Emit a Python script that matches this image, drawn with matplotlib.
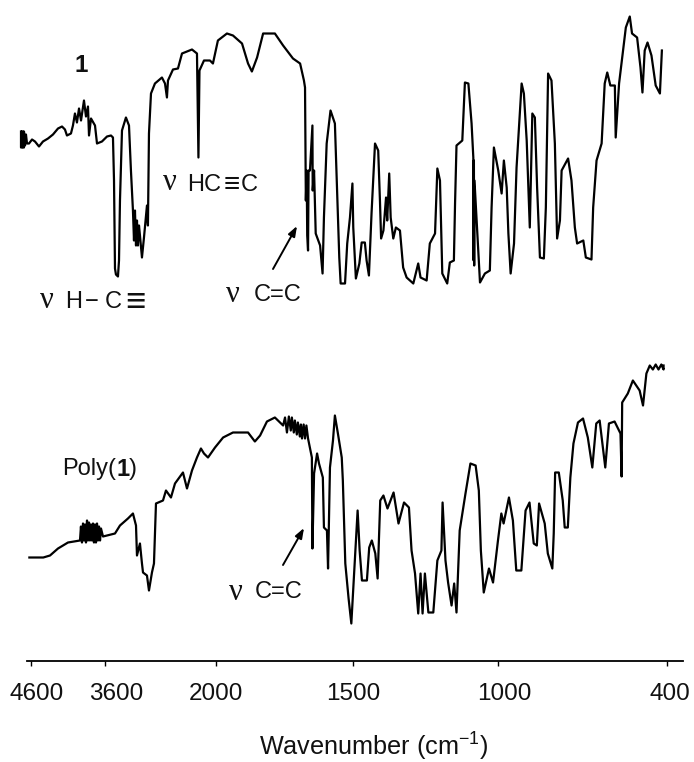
import numpy as np
import matplotlib
matplotlib.use("Agg")
import matplotlib.pyplot as plt
from matplotlib.transforms import ScaledTranslation

plt.rcParams['font.family'] = ['Liberation Sans', 'DejaVu Sans']
plt.rcParams['mathtext.fontset'] = 'custom'
plt.rcParams['mathtext.rm'] = 'Liberation Sans'
plt.rcParams['mathtext.default'] = 'rm'

tick_wavenumbers = [4600, 3600, 2000, 1500, 1000, 400]
tick_labels = ['4600', '3600', '2000', '1500', '1000', '400']

monomer_wn = [4735,4735,4722,4722,4708,4708,4695,4695,4681,4668,4654,4627,4586,4546,4492,4438,4370,4303,4235,4181,4141,4114,4060,4033,4006,3979,3951,3924,3884,3857,3830,3816,3789,3735,3708,3641,3571,3514,3485,3470,3456,3442,3413,3398,3384,3355,3298,3254,3226,3197,3182,3168,3153,3139,3125,3110,3096,3067,3038,2995,2981,2966,2937,2880,2779,2735,2707,2692,2620,2548,2490,2346,2274,2253,2238,2173,2087,2044,1993,1960,1938,1905,1883,1869,1850,1828,1785,1755,1719,1693,1679,1675,1672,1669,1667,1664,1662,1657,1648,1647,1642,1636,1620,1611,1606,1596,1582,1566,1557,1550,1545,1529,1521,1511,1502,1499,1490,1478,1470,1459,1453,1445,1436,1424,1413,1407,1403,1395,1386,1382,1375,1370,1361,1352,1338,1327,1315,1292,1275,1267,1246,1235,1217,1209,1200,1192,1175,1166,1152,1148,1143,1123,1114,1102,1091,1085,1084,1083,1082,1081,1062,1045,1028,1022,1014,999,987,979,969,963,955,943,934,924,916,908,898,887,878,869,861,851,837,830,822,810,798,790,780,774,751,739,727,719,697,688,668,662,650,632,621,612,601,585,582,570,556,546,532,524,506,494,487,479,469,455,440,425,418]
monomer_t = [529,513,513,529,529,513,513,529,515,526,517,517,521,519,514,519,522,526,532,534,531,525,527,535,547,538,552,540,560,544,554,525,542,535,517,519,524,525,523,480,392,386,384,400,460,530,543,535,490,450,420,450,415,440,415,435,425,403,423,455,435,527,567,577,583,577,563,580,591,592,607,611,607,503,590,600,600,597,620,627,625,617,597,589,603,627,627,615,602,597,580,573,460,490,425,410,490,490,535,470,490,427,415,387,443,517,550,537,460,403,377,377,417,443,477,433,382,397,418,418,400,385,447,517,510,460,422,430,463,440,487,443,422,433,430,393,383,377,397,383,380,417,427,492,480,387,377,398,400,457,515,520,578,577,537,503,400,500,395,480,378,387,390,453,513,490,467,500,473,427,387,417,493,540,577,567,520,433,547,543,473,403,402,453,587,580,517,422,440,490,502,480,433,417,420,403,401,453,500,517,577,588,575,575,523,577,610,633,644,627,623,593,568,610,618,605,575,567,610]

polymer_wn = [4622,4440,4434,4343,4235,4100,3938,3925,3911,3897,3884,3870,3857,3843,3830,3816,3803,3790,3776,3762,3749,3735,3722,3708,3695,3681,3667,3654,3627,3571,3456,3384,3269,3197,3153,3139,3096,3067,3052,2995,2966,2923,2894,2865,2764,2721,2649,2591,2476,2418,2346,2274,2217,2173,2115,2014,1974,1938,1883,1858,1839,1814,1785,1755,1748,1741,1734,1727,1723,1716,1712,1705,1701,1694,1690,1686,1680,1675,1670,1664,1650,1648,1642,1631,1624,1610,1606,1595,1591,1584,1573,1566,1555,1541,1537,1528,1516,1506,1498,1492,1484,1477,1469,1452,1444,1435,1423,1415,1406,1395,1381,1360,1343,1324,1307,1298,1286,1275,1267,1260,1252,1240,1223,1209,1195,1191,1181,1172,1160,1151,1143,1132,1112,1095,1077,1066,1059,1049,1031,1017,1000,988,980,961,947,935,917,902,888,873,862,854,834,823,807,802,797,784,770,763,752,743,732,716,698,681,665,651,639,619,606,586,565,561,559,539,521,497,485,473,461,450,440,430,420,412,412]
polymer_t = [103,103,103,105,112,118,120,134,118,137,120,136,118,140,120,138,120,136,120,137,118,136,118,137,120,134,120,132,124,125,127,135,142,147,135,105,117,97,88,85,70,88,97,157,160,170,163,177,188,172,190,203,212,207,203,213,223,228,228,219,225,239,243,235,243,228,244,230,243,228,240,226,238,224,236,222,236,222,235,222,203,112,187,207,197,183,133,130,92,193,220,245,227,203,180,97,62,37,77,110,150,110,80,80,113,120,107,82,160,165,152,168,137,158,153,110,87,47,87,47,87,48,48,100,110,158,100,78,55,77,48,130,167,197,195,170,110,68,92,78,120,147,137,163,140,90,90,150,158,117,115,157,137,107,92,127,188,188,160,133,133,183,217,238,242,223,193,237,240,193,237,239,227,184,258,267,280,270,255,287,295,291,296,291,296,291,295]

axis_wn = [5000, 4600, 3600, 2000, 1500, 1000, 400, 200]
axis_pos = [1.4, 31, 105, 216, 353, 498, 667, 723.3]

W, H = 694, 762
fig = plt.figure(figsize=(W / 100, H / 100), dpi=100)
ax = fig.add_axes([27 / W, 1 - 660.5 / H, 656 / W, 660.5 / H])
ax.patch.set_alpha(0)

neg_wn = -np.array(axis_wn, float)
pos = np.array(axis_pos, float)
def forward(v):
    return -np.interp(-np.asarray(v, float), neg_wn, pos)
def inverse(p):
    return -np.interp(-np.asarray(p, float), pos, neg_wn)
ax.set_xscale('function', functions=(forward, inverse))
ax.set_xlim(4654, 343)
ax.set_ylim(0, 660.5)

for xs, ys in ((monomer_wn, monomer_t), (polymer_wn, polymer_t)):
    ax.plot(xs, ys, color='black', lw=1.6, clip_on=False, solid_joinstyle='round')

for s in ('left', 'right', 'top'):
    ax.spines[s].set_visible(False)
ax.spines['bottom'].set_linewidth(1.3)
ax.set_yticks([])
ax.set_xticks(tick_wavenumbers)
ax.set_xticklabels(tick_labels, fontsize=17.5, color='#111111')
ax.set_xticks([], minor=True)
ax.tick_params(axis='x', length=3.5, width=1.0, pad=12.5)
label_dx = [6, 11, 0, 0, 6, 3]
for lab, dx in zip(ax.get_xticklabels(), label_dx):
    lab.set_transform(lab.get_transform() + ScaledTranslation(dx / 100, 0, fig.dpi_scale_trans))

def fx(x): return x / W
def fy(y): return 1 - y / H

def label(x, y, s, size=17, **kw):
    fig.text(fx(x), fy(y), s, fontsize=size, va='center', ha='left', color='#111111', **kw)

label(74, 66, '1', size=17.5, fontweight='bold')

label(163, 183, 'ν', family='Liberation Serif', size=22)
label(187, 185, 'HC')
label(224, 185, '≡', size=20)
label(241, 185, 'C')

label(40, 301, 'ν', family='Liberation Serif', size=22)
label(65, 302, 'H')
label(85, 302, '−')
label(105, 302, 'C')
label(125, 302, '≡', size=25)

label(226, 295, 'ν', family='Liberation Serif', size=22)
label(254, 295, 'C=C')

label(62, 469, 'Poly(')
label(116, 469, '1', fontweight='bold')
label(129, 469, ')')

label(229, 592, 'ν', family='Liberation Serif', size=22)
label(255, 592, 'C=C')

fig.text(fx(374), fy(747), 'Wavenumber (cm$^{-1}$)', fontsize=18.2, ha='center', va='center', color='#111111')

for (x0, y0, x1, y1) in ((273, 269, 297, 226), (283, 565, 304, 528)):
    ax.annotate('', xy=(fx(x1), fy(y1)), xytext=(fx(x0), fy(y0)), xycoords='figure fraction',
                textcoords='figure fraction',
                arrowprops=dict(arrowstyle='-|>,head_length=0.6,head_width=0.22', color='black', lw=1.4,
                                shrinkA=0, shrinkB=0))

fig.savefig('out.png', dpi=100)
